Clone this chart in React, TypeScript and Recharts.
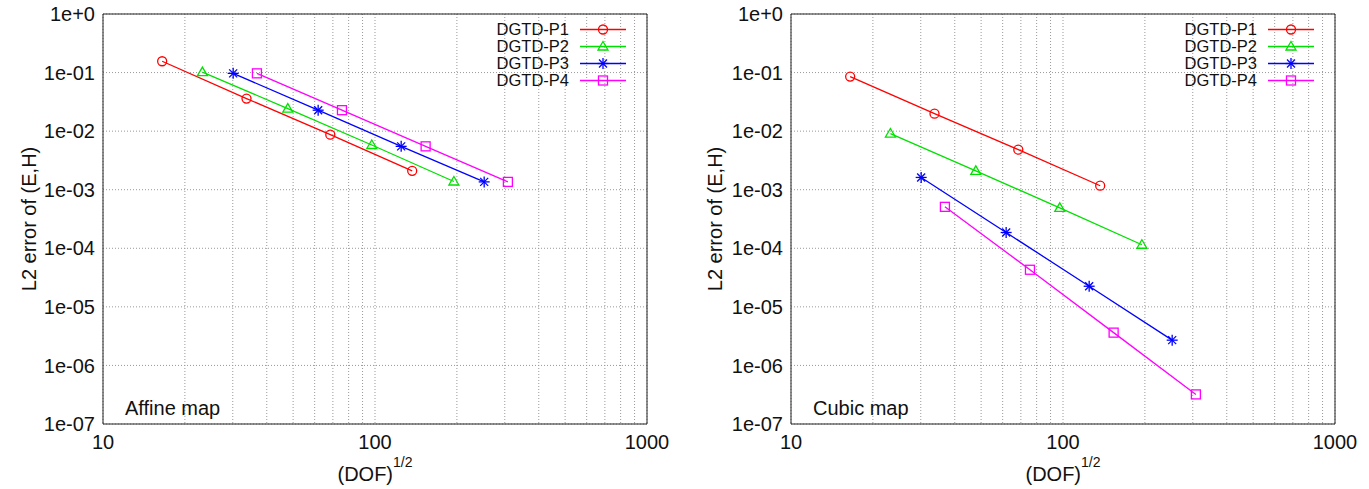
import React from "react";
import { LineChart, Line, XAxis, YAxis, CartesianGrid, Legend } from "recharts";

// (DOF)^1/2 per refinement level, shared by both maps
const dofP1 = [16.5, 33.7, 68.5, 137];
const dofP2 = [23.2, 47.8, 97.3, 195];
const dofP3 = [30.1, 61.8, 124.8, 252];
const dofP4 = [36.8, 75.6, 153.5, 308];

// L2 error, affine map
const affineP1 = [0.156, 0.036, 0.0087, 0.0021];
const affineP2 = [0.102, 0.0243, 0.0058, 0.00138];
const affineP3 = [0.097, 0.0228, 0.0055, 0.00136];
const affineP4 = [0.097, 0.0228, 0.0055, 0.00136];

// L2 error, cubic map
const cubicP1 = [0.0855, 0.0199, 0.00483, 0.00117];
const cubicP2 = [0.0091, 0.0021, 0.00049, 0.000115];
const cubicP3 = [0.00162, 0.000186, 2.25e-5, 2.7e-6];
const cubicP4 = [0.00051, 4.3e-5, 3.63e-6, 3.2e-7];

const seriesNames = ["DGTD-P1", "DGTD-P2", "DGTD-P3", "DGTD-P4"];
const seriesColors = ["#ff0000", "#00e000", "#0000ff", "#ff00ff"];
const markerShapes = ["circle", "triangle", "star", "square"];
const dofs = [dofP1, dofP2, dofP3, dofP4];

const xTicks = [10, 20, 30, 40, 50, 60, 70, 80, 90, 100, 200, 300, 400, 500, 600, 700, 800, 900, 1000];
const xLabels = [10, 100, 1000];
const yTicks = [1e-7, 1e-6, 1e-5, 1e-4, 1e-3, 1e-2, 1e-1, 1];

const FONT = '"Liberation Sans", Arial, Helvetica, sans-serif';
const FRAME = "#222";

const fmtX = (v: number) => (xLabels.includes(v) ? String(v) : "");
const fmtY = (v: number) => (v >= 1 ? "1e+0" : `1e-0${Math.round(-Math.log10(v))}`);

function Marker({ cx, cy, shape, color }: { cx?: number; cy?: number; shape: string; color: string }) {
  if (cx == null || cy == null) return null;
  const sw = 1.3;
  if (shape === "circle") return <circle cx={cx} cy={cy} r={4.5} fill="none" stroke={color} strokeWidth={sw} />;
  if (shape === "triangle")
    return (
      <path
        d={`M${cx},${cy - 5} L${cx + 5},${cy + 3.5} L${cx - 5},${cy + 3.5} Z`}
        fill="none"
        stroke={color}
        strokeWidth={sw}
      />
    );
  if (shape === "square")
    return <rect x={cx - 4.5} y={cy - 4.5} width={9} height={9} fill="none" stroke={color} strokeWidth={sw} />;
  return (
    <g stroke={color} strokeWidth={sw}>
      <line x1={cx - 5.5} y1={cy} x2={cx + 5.5} y2={cy} />
      <line x1={cx} y1={cy - 5.5} x2={cx} y2={cy + 5.5} />
      <line x1={cx - 4} y1={cy - 4} x2={cx + 4} y2={cy + 4} />
      <line x1={cx - 4} y1={cy + 4} x2={cx + 4} y2={cy - 4} />
    </g>
  );
}

const renderLegend = (props: any) => {
  const payload = props.payload || [];
  return (
    <div style={{ fontFamily: FONT, fontSize: 16.5, color: "#111" }}>
      {payload.map((p: any, i: number) => (
        <div key={p.value} style={{ display: "flex", alignItems: "center", justifyContent: "flex-end", height: 17 }}>
          <span style={{ lineHeight: "17px" }}>{p.value}</span>
          <svg width={57} height={17} style={{ display: "block" }}>
            <line x1={11} y1={8.5} x2={57} y2={8.5} stroke={seriesColors[i]} strokeWidth={1.3} />
            <Marker cx={34} cy={8.5} shape={markerShapes[i]} color={seriesColors[i]} />
          </svg>
        </div>
      ))}
    </div>
  );
};

function ErrorPlot({ errors, title, yLabelX }: { errors: number[][]; title: string; yLabelX: number }) {
  const logX = { type: "number" as const, scale: "log" as const, domain: [10, 1000], ticks: xTicks, allowDataOverflow: true };
  const logY = { type: "number" as const, scale: "log" as const, domain: [1e-7, 1], ticks: yTicks, allowDataOverflow: true };
  return (
    <div style={{ position: "relative", width: 680, height: 489 }}>
      <LineChart width={680} height={489} margin={{ top: 14, right: 33, bottom: 0, left: 0 }}>
        <CartesianGrid stroke="#999" strokeDasharray="1 2" />
        <XAxis
          {...logX}
          dataKey="x"
          interval={0}
          height={65}
          tickLine={false}
          tickMargin={5}
          tickFormatter={fmtX}
          axisLine={{ stroke: FRAME }}
          tick={{ fontSize: 20, fill: "#111", fontFamily: FONT }}
          label={{
            content: (lp: any) => {
              const vb = lp.viewBox || {};
              return (
                <text x={vb.x + vb.width / 2} y={vb.y + 57} textAnchor="middle" fontSize={20} fontFamily={FONT} fill="#111">
                  (DOF)
                  <tspan dy={-14} fontSize={14}>1/2</tspan>
                </text>
              );
            },
          }}
        />
        <XAxis {...logX} xAxisId="bm" orientation="bottom" mirror tick={false} tickSize={5} axisLine={false} tickLine={{ stroke: FRAME }} />
        <XAxis {...logX} xAxisId="tm" orientation="top" mirror tick={false} tickSize={5} axisLine={{ stroke: FRAME }} tickLine={{ stroke: FRAME }} />
        <YAxis
          {...logY}
          interval={0}
          width={103}
          tickLine={false}
          tickFormatter={fmtY}
          axisLine={{ stroke: FRAME }}
          tick={{ fontSize: 20, fill: "#111", fontFamily: FONT }}
          label={{
            content: (lp: any) => {
              const vb = lp.viewBox || {};
              const cy = vb.y + vb.height / 2;
              return (
                <text
                  x={yLabelX}
                  y={cy}
                  transform={`rotate(-90 ${yLabelX} ${cy})`}
                  textAnchor="middle"
                  fontSize={20}
                  fontFamily={FONT}
                  fill="#111"
                >
                  L2 error of (E,H)
                </text>
              );
            },
          }}
        />
        <YAxis {...logY} yAxisId="lm" orientation="left" mirror tick={false} tickSize={8} axisLine={false} tickLine={{ stroke: FRAME }} />
        <YAxis {...logY} yAxisId="rm" orientation="right" mirror tick={false} tickSize={8} axisLine={{ stroke: FRAME }} tickLine={{ stroke: FRAME }} />
        {seriesNames.map((name, i) => (
          <Line
            key={name}
            name={name}
            data={dofs[i].map((x, j) => ({ x, y: errors[i][j] }))}
            dataKey="y"
            stroke={seriesColors[i]}
            strokeWidth={1.3}
            isAnimationActive={false}
            activeDot={false}
            dot={(dp: any) => (
              <Marker key={`${name}-${dp.index}`} cx={dp.cx} cy={dp.cy} shape={markerShapes[i]} color={seriesColors[i]} />
            )}
          />
        ))}
        <Legend
          layout="vertical"
          align="center"
          verticalAlign="middle"
          content={renderLegend}
          wrapperStyle={{ top: 21, right: 54, left: "auto", width: "auto" }}
        />
      </LineChart>
      <div
        style={{
          position: "absolute",
          left: 125,
          top: 398,
          fontFamily: FONT,
          fontSize: 20,
          lineHeight: "20px",
          color: "#111",
          whiteSpace: "nowrap",
        }}
      >
        {title}
      </div>
    </div>
  );
}

export default function App() {
  return (
    <div style={{ position: "absolute", left: 0, top: 0, width: 1369, height: 489, background: "#fff" }}>
      <div style={{ position: "absolute", left: 0, top: 0 }}>
        <ErrorPlot errors={[affineP1, affineP2, affineP3, affineP4]} title="Affine map" yLabelX={36} />
      </div>
      <div style={{ position: "absolute", left: 688, top: 0 }}>
        <ErrorPlot errors={[cubicP1, cubicP2, cubicP3, cubicP4]} title="Cubic map" yLabelX={34} />
      </div>
    </div>
  );
}
